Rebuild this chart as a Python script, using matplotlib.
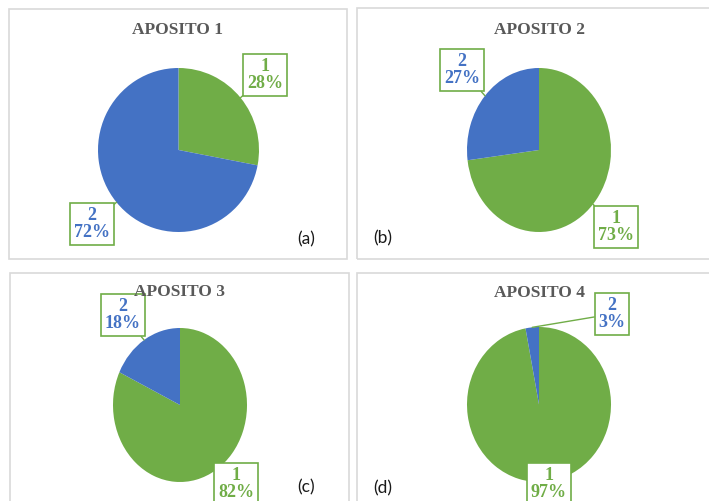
import numpy as np
import matplotlib
matplotlib.use("Agg")
import matplotlib.pyplot as plt
from matplotlib.patches import Rectangle

# data
titles = ["APOSITO 1", "APOSITO 2", "APOSITO 3", "APOSITO 4"]
tags = ["(a)", "(b)", "(c)", "(d)"]
slice_names = ["1", "2"]
pct_a = [28, 72]
pct_b = [73, 27]
pct_c = [82, 18]
pct_d = [97, 3]
values = [pct_a, pct_b, pct_c, pct_d]

GREEN = "#70AD47"
BLUE = "#4472C4"
colors = [GREEN, BLUE]

W, H = 709, 501
fig = plt.figure(figsize=(W / 100, H / 100), dpi=100)
fig.patch.set_facecolor("white")


def fx(x):
    return x / W


def fy(y):
    return 1 - y / H


# panel frames (left, top, right, bottom) in pixels
frames = [(9, 9, 347, 259), (357, 8, 712, 259),
          (10, 273, 349, 505), (357, 273, 712, 505)]
for l, t, r, b in frames:
    fig.patches.append(Rectangle((fx(l), fy(b)), fx(r - l), (b - t) / H,
                                 transform=fig.transFigure, fill=False,
                                 edgecolor="#D9D9D9", lw=1.2))

# pie boxes (cx, cy, rx, ry) in pixels
pies = [(178.5, 150, 80.5, 82), (539, 150, 72, 82),
        (180, 405, 67, 77), (539, 404.5, 72, 77.5)]
title_pos = [(178, 30), (539, 30), (180, 292), (539, 293)]
tag_pos = [(306, 239), (383, 238), (306, 487), (383, 488)]
# label text centres for slice 1 and slice 2
label_pos = [[(265, 75), (92, 224)],
             [(616, 227), (462, 70)],
             [(236, 484), (123, 315)],
             [(549, 484), (612, 314)]]

for i in range(4):
    cx, cy, rx, ry = pies[i]
    ax = fig.add_axes([fx(cx - rx), fy(cy + ry), 2 * rx / W, 2 * ry / H])
    wedges, _ = ax.pie(values[i], colors=colors, startangle=90,
                       counterclock=False, radius=1)
    ax.set_aspect("auto")
    ax.set_xlim(-1, 1)
    ax.set_ylim(-1, 1)
    ax.axis("off")

    fig.text(fx(title_pos[i][0]), fy(title_pos[i][1]), titles[i],
             ha="center", va="center", fontsize=12.5, fontweight="bold",
             family="Liberation Serif", color="#595959")
    fig.text(fx(tag_pos[i][0]), fy(tag_pos[i][1]), tags[i],
             ha="center", va="center", fontsize=12.5, family="Lato",
             color="#1a1a1a")

    for j, w in enumerate(wedges):
        ang = np.deg2rad((w.theta1 + w.theta2) / 2)
        px, py = label_pos[i][j]
        ax.annotate(f"{slice_names[j]}\n{values[i][j]}%",
                    xy=(np.cos(ang), np.sin(ang)), xycoords="data",
                    xytext=(px, H - py), textcoords="figure pixels",
                    ha="center", va="center", fontsize=13,
                    fontweight="bold", family="Liberation Serif",
                    color=colors[j], linespacing=1.05,
                    bbox=dict(boxstyle="square,pad=0.2", fc="white",
                              ec=GREEN, lw=1.2),
                    arrowprops=dict(arrowstyle="-", color=GREEN, lw=1,
                                    shrinkA=0, shrinkB=0),
                    annotation_clip=False, zorder=5)

fig.savefig("out.png", dpi=100, facecolor="white")
